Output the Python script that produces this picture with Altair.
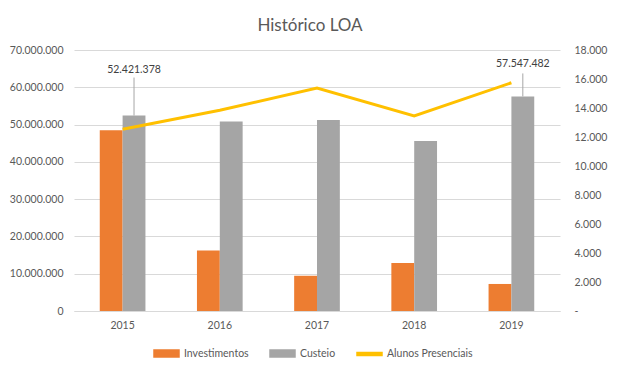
import altair as alt
import pandas as pd

# ---- data ----
anos = ["2015", "2016", "2017", "2018", "2019"]
investimentos = [48500000, 16200000, 9450000, 12900000, 7250000]
custeio = [52421378, 50800000, 51200000, 45600000, 57547482]
alunos = [12530, 13850, 15370, 13450, 15740]
series_names = ["Investimentos", "Custeio", "Alunos Presenciais"]
series_colors = ["#ED7D31", "#A5A5A5", "#FFC000"]
label_years = ["2015", "2019"]

bars_df = pd.DataFrame({
    "ano": anos * 2,
    "serie": ["Investimentos"] * len(anos) + ["Custeio"] * len(anos),
    "valor": investimentos + custeio,
})
line_df = pd.DataFrame({"ano": anos, "serie": ["Alunos Presenciais"] * len(anos), "valor": alunos})

FONT = "Lato"
FS = 10.5
TXT = "#595959"
GRID = "#D9D9D9"
dots = "replace(format(datum.value, ','), regexp(',', 'g'), '.')"

xenc = alt.X("ano:N", sort=anos,
             scale=alt.Scale(paddingInner=0.53, paddingOuter=0.265),
             axis=alt.Axis(title=None, labelAngle=0, ticks=False, domainColor=GRID,
                           labelColor=TXT, labelFont=FONT, labelFontSize=FS, labelPadding=9))
xoff = alt.XOffset("serie:N", scale=alt.Scale(domain=["Investimentos", "Custeio"], paddingInner=0, paddingOuter=0))
yleft = alt.Y("valor:Q", scale=alt.Scale(domain=[0, 70000000], nice=False),
              axis=alt.Axis(title=None, values=list(range(0, 70000001, 10000000)), labelExpr=dots,
                            grid=True, gridColor=GRID, domain=False, ticks=False,
                            labelColor=TXT, labelFont=FONT, labelFontSize=FS, labelPadding=11))
yright = alt.Y("valor:Q", scale=alt.Scale(domain=[0, 18000], nice=False),
               axis=alt.Axis(title=None, orient="right", values=list(range(0, 18001, 2000)),
                             labelExpr="datum.value == 0 ? '-' : " + dots,
                             grid=False, domain=False, ticks=False, labelAlign="left",
                             labelColor=TXT, labelFont=FONT, labelFontSize=FS, labelPadding=14))

shape_sig = ("datum.value === 'Alunos Presenciais' ? 'M-1,-0.12H1V0.12H-1Z' : 'M-1,-0.28H1V0.28H-1Z'")
color = alt.Color("serie:N", scale=alt.Scale(domain=series_names, range=series_colors),
                  legend=alt.Legend(title=None, orient="none", direction="horizontal",
                                    legendX=79, legendY=290, symbolSize=625, labelOffset=4,
                                    columnPadding=18, labelFont=FONT, labelFontSize=FS, labelColor=TXT,
                                    symbolType=alt.ExprRef(expr=shape_sig),
                                    symbolFillColor=alt.ExprRef(expr="scale('color', datum.value)"),
                                    symbolStrokeColor="transparent", symbolOpacity=1))

bars = alt.Chart(bars_df).mark_bar().encode(x=xenc, xOffset=xoff, y=yleft, color=color)

label_layers = []
offsets = {"2015": (38, 43), "2019": (23, 29)}
for yr in label_years:
    base = alt.Chart(bars_df).transform_filter(
        (alt.datum.serie == "Custeio") & (alt.datum.ano == yr)
    ).transform_calculate(lbl="replace(format(datum.valor, ','), regexp(',', 'g'), '.')")
    rl, tl = offsets[yr]
    rule = base.mark_rule(color="#A6A6A6", strokeWidth=1, y2Offset=-rl).encode(
        x=xenc, xOffset=xoff, y=yleft, y2="valor:Q")
    text = base.mark_text(dy=-tl, baseline="alphabetic", font=FONT, fontSize=FS, color="#404040").encode(
        x=xenc, xOffset=xoff, y=yleft, text="lbl:N")
    label_layers += [rule, text]

left = alt.layer(bars, *label_layers)
line = alt.Chart(line_df).mark_line(strokeWidth=3).encode(x=xenc, y=yright, color=color)

chart = alt.layer(left, line).resolve_scale(y="independent").properties(
    width=486, height=261,
    padding={"left": 66, "top": 42, "right": 50, "bottom": 54},
    autosize=alt.AutoSizeParams(type="none"),
    title=alt.Title("Histórico LOA", font=FONT, fontSize=17, fontWeight="normal",
                    color=TXT, anchor="middle", offset=10, dx=-7),
).configure_view(stroke="transparent")

chart.save("out.html", embed_options={"renderer": "svg", "actions": False})
